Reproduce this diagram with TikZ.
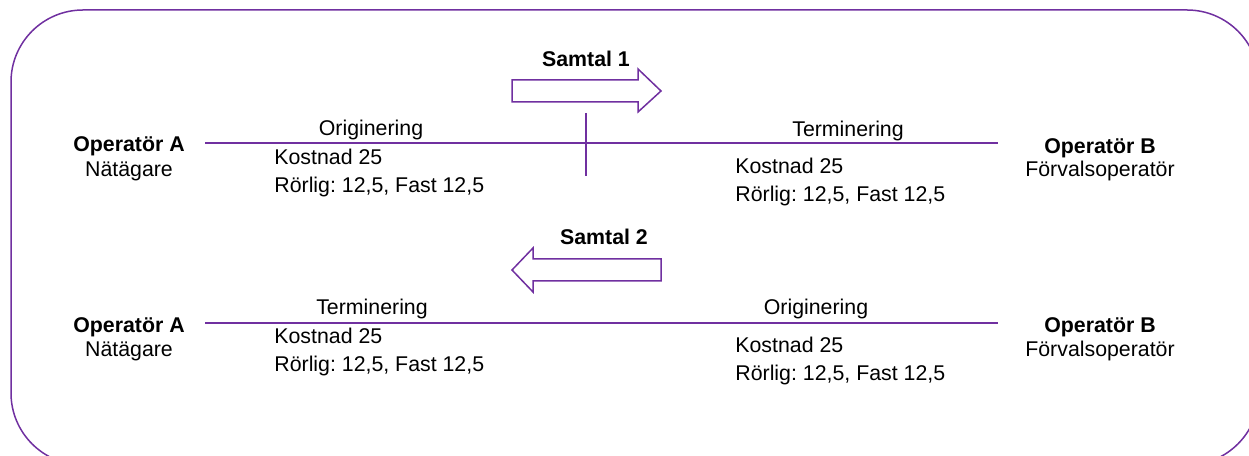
\documentclass[tikz,border=0pt]{standalone}
\usepackage{fontspec}
\setmainfont{Liberation Sans}
\definecolor{lila}{HTML}{7030A0}
\frenchspacing
\begin{document}
\begin{tikzpicture}[x=0.5bp,y=-0.5bp,
  txt/.style={inner sep=0pt, anchor=base, font=\fontsize{10.7pt}{13pt}\selectfont},
  ltxt/.style={txt, anchor=base west},
  bold/.style={txt, font=\fontsize{10.7pt}{13pt}\selectfont\bfseries},
  link/.style={draw=lila, line width=1bp},
  frame/.style={draw=lila, line width=0.75bp, rounded corners=36bp},
  arr/.style={draw=lila, line width=0.75bp, fill=white, line join=miter}]
\useasboundingbox (0,0) rectangle (1249,456);
\clip (0,0) rectangle (1249,456);
\draw[frame] (11,10) rectangle (1259,465);

% arrows
\draw[arr] (512,80) -- (638,80) -- (638,69) -- (661,91) -- (638,112) -- (638,102) -- (512,102) -- cycle;
\draw[arr] (661,259) -- (533,259) -- (533,248) -- (512,270) -- (533,292) -- (533,281) -- (661,281) -- cycle;
\node[bold] (s1) at (586,67) {Samtal 1};
\node[bold] (s2) at (604,245) {Samtal 2};

% top row
\coordinate (a1) at (205,143);
\coordinate (b1) at (998,143);
\coordinate (t1) at (586,113);
\coordinate (t2) at (586,176);
\draw[link] (a1) -- (b1);
\draw[link] (t1) -- (t2);
\node[bold] (opA1) at (129,152) {Operatör A};
\node[txt] (nat1) at (129,177) {Nätägare};
\node[txt] (orig1) at (371,136) {Originering};
\node[ltxt] (kost1) at (274,165) {Kostnad 25};
\node[ltxt] (ror1) at (274,193) {Rörlig: 12,5, Fast 12,5};
\node[txt] (term1) at (848,137) {Terminering};
\node[ltxt] (kost2) at (735,174) {Kostnad 25};
\node[ltxt] (ror2) at (735,202) {Rörlig: 12,5, Fast 12,5};
\node[bold] (opB1) at (1100,154) {Operatör B};
\node[txt] (forv1) at (1100,177) {Förvalsoperatör};

% bottom row
\coordinate (a2) at (205,323);
\coordinate (b2) at (998,323);
\draw[link] (a2) -- (b2);
\node[bold] (opA2) at (129,333) {Operatör A};
\node[txt] (nat2) at (129,357) {Nätägare};
\node[txt] (term2) at (372,315) {Terminering};
\node[ltxt] (kost3) at (274,344) {Kostnad 25};
\node[ltxt] (ror3) at (274,372) {Rörlig: 12,5, Fast 12,5};
\node[txt] (orig2) at (816,315) {Originering};
\node[ltxt] (kost4) at (735,353) {Kostnad 25};
\node[ltxt] (ror4) at (735,381) {Rörlig: 12,5, Fast 12,5};
\node[bold] (opB2) at (1100,333) {Operatör B};
\node[txt] (forv2) at (1100,357) {Förvalsoperatör};
\end{tikzpicture}
\end{document}
